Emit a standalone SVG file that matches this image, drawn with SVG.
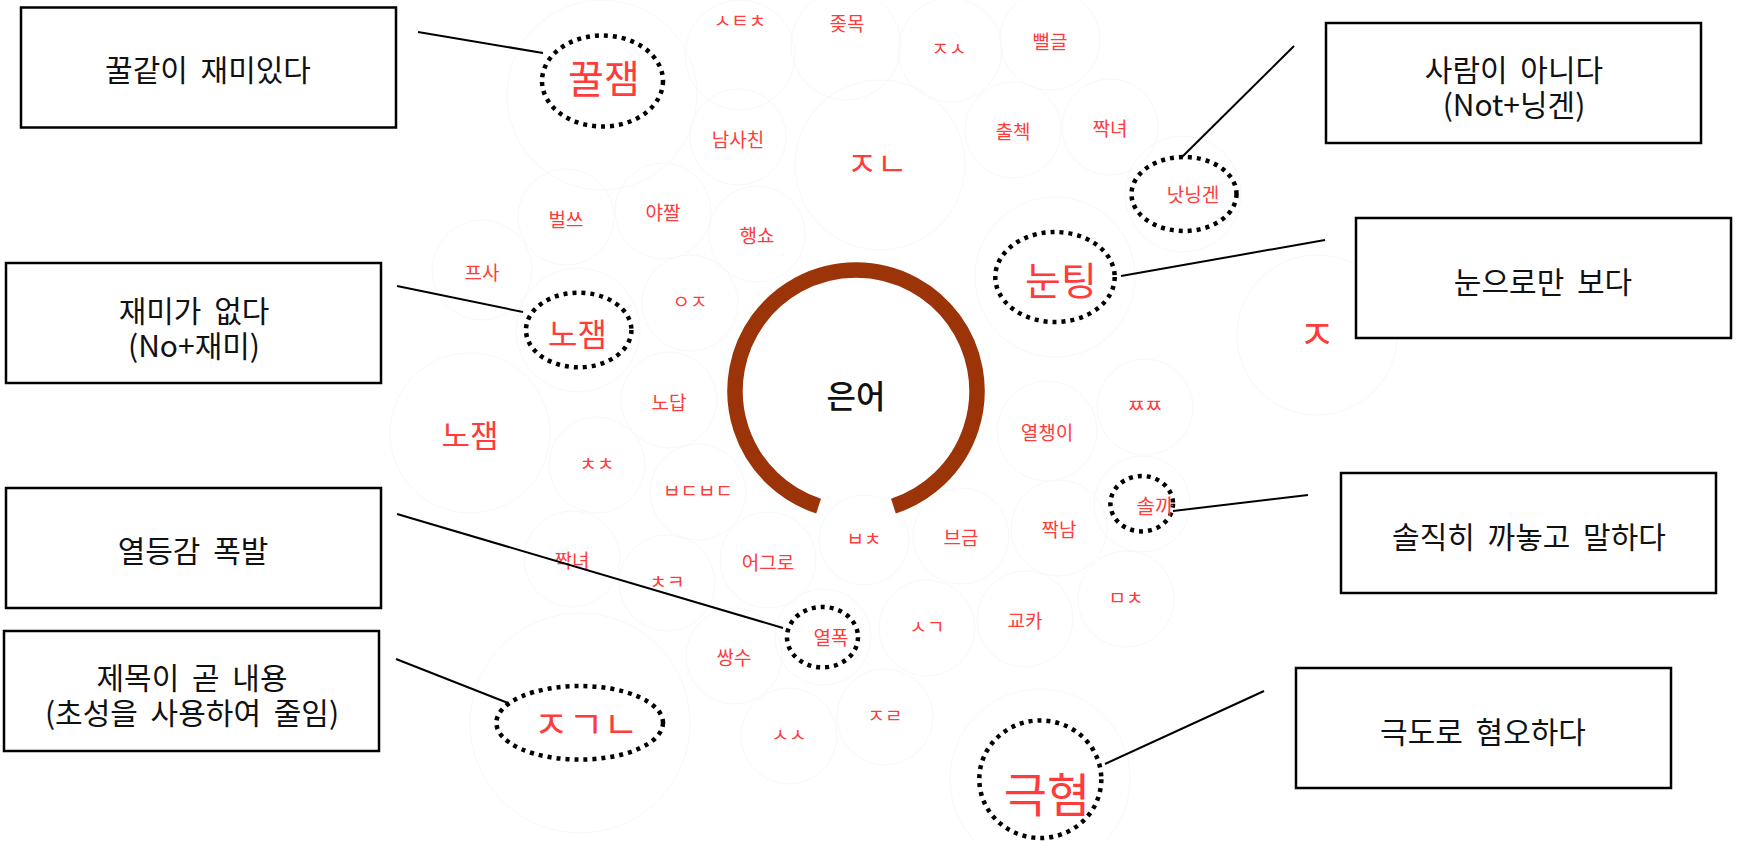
<svg xmlns="http://www.w3.org/2000/svg" width="1737" height="841" viewBox="0 0 1737 841">
<style>
.bub{fill:none;stroke:#f8f8f8;stroke-width:1}
.w{font-family:"Noto Sans CJK KR","Noto Sans",sans-serif;fill:#ff3b3b;text-anchor:middle;dominant-baseline:central}
.s{font-size:19px}
.box{fill:#fff;stroke:#000;stroke-width:2.5}
.bt{font-family:"Noto Sans CJK KR","Noto Sans",sans-serif;font-size:30px;word-spacing:6px;fill:#111;text-anchor:middle;dominant-baseline:central}
.dot{fill:none;stroke:#000;stroke-width:4.5;stroke-dasharray:4 5}
.ln{stroke:#000;stroke-width:2;fill:none}
</style>
<rect width="1737" height="841" fill="#fff"/>
<g id="bubbles">
<circle class="bub" cx="602" cy="95" r="95"/>
<circle class="bub" cx="740" cy="55" r="55"/>
<circle class="bub" cx="846" cy="45" r="55"/>
<circle class="bub" cx="950" cy="50" r="52"/>
<circle class="bub" cx="1050" cy="40" r="50"/>
<circle class="bub" cx="738" cy="137" r="48"/>
<circle class="bub" cx="880" cy="165" r="85"/>
<circle class="bub" cx="1013" cy="130" r="48"/>
<circle class="bub" cx="1110" cy="127" r="48"/>
<circle class="bub" cx="566" cy="217" r="48"/>
<circle class="bub" cx="663" cy="211" r="48"/>
<circle class="bub" cx="757" cy="234" r="48"/>
<circle class="bub" cx="482" cy="270" r="50"/>
<circle class="bub" cx="578" cy="330" r="62"/>
<circle class="bub" cx="690" cy="303" r="48"/>
<circle class="bub" cx="669" cy="400" r="48"/>
<circle class="bub" cx="470" cy="433" r="80"/>
<circle class="bub" cx="597" cy="465" r="48"/>
<circle class="bub" cx="698" cy="492" r="48"/>
<circle class="bub" cx="1183" cy="194" r="58"/>
<circle class="bub" cx="1055" cy="277" r="80"/>
<circle class="bub" cx="1317" cy="335" r="80"/>
<circle class="bub" cx="1047" cy="431" r="50"/>
<circle class="bub" cx="1145" cy="407" r="48"/>
<circle class="bub" cx="1142" cy="504" r="48"/>
<circle class="bub" cx="961" cy="536" r="48"/>
<circle class="bub" cx="1059" cy="528" r="48"/>
<circle class="bub" cx="864" cy="540" r="45"/>
<circle class="bub" cx="572" cy="559" r="48"/>
<circle class="bub" cx="667" cy="583" r="48"/>
<circle class="bub" cx="768" cy="560" r="48"/>
<circle class="bub" cx="823" cy="637" r="48"/>
<circle class="bub" cx="734" cy="656" r="48"/>
<circle class="bub" cx="927" cy="628" r="48"/>
<circle class="bub" cx="1025" cy="619" r="48"/>
<circle class="bub" cx="1126" cy="599" r="48"/>
<circle class="bub" cx="580" cy="723" r="110"/>
<circle class="bub" cx="789" cy="736" r="48"/>
<circle class="bub" cx="885" cy="717" r="48"/>
<circle class="bub" cx="1040" cy="779" r="90"/>
</g>
<g id="center">
<path d="M 893.4 506.1 A 121 121 0 1 0 818.6 506.1" fill="none" stroke="#9c3409" stroke-width="15.5"/>
<text x="856" y="394" font-family="'Noto Sans CJK KR','Noto Sans',sans-serif" font-size="32" font-weight="500" fill="#111" text-anchor="middle" dominant-baseline="central">은어</text>
</g>
<g id="words">
<text class="w s" x="740" y="19">ㅅㅌㅊ</text>
<text class="w s" x="847" y="22">좆목</text>
<text class="w s" x="949" y="47">ㅈㅅ</text>
<text class="w s" x="1050" y="40">뻘글</text>
<text class="w s" x="738" y="138">남사친</text>
<text class="w" x="877" y="162" font-size="33">ㅈㄴ</text>
<text class="w s" x="1013" y="130">출첵</text>
<text class="w s" x="1110" y="127">짝녀</text>
<text class="w s" x="566" y="218">벌쓰</text>
<text class="w s" x="663" y="211">야짤</text>
<text class="w s" x="757" y="234">행쇼</text>
<text class="w s" x="482" y="271">프사</text>
<text class="w s" x="690" y="300">ㅇㅈ</text>
<text class="w s" x="669" y="401">노답</text>
<text class="w" x="470" y="433" font-size="31">노잼</text>
<text class="w s" x="597" y="462">ㅊㅊ</text>
<text class="w s" x="698" y="489">ㅂㄷㅂㄷ</text>
<text class="w" x="1317" y="332" font-size="40">ㅈ</text>
<text class="w s" x="1145" y="404">ㅉㅉ</text>
<text class="w s" x="1047" y="431">열챙이</text>
<text class="w s" x="961" y="536">브금</text>
<text class="w s" x="1059" y="528">짝남</text>
<text class="w s" x="864" y="537">ㅂㅊ</text>
<text class="w s" x="572" y="559">짝녀</text>
<text class="w s" x="667" y="580">ㅊㅋ</text>
<text class="w s" x="768" y="561">어그로</text>
<text class="w s" x="734" y="656">쌍수</text>
<text class="w s" x="927" y="625">ㅅㄱ</text>
<text class="w s" x="1025" y="619">교카</text>
<text class="w s" x="1126" y="596">ㅁㅊ</text>
<text class="w s" x="789" y="733">ㅅㅅ</text>
<text class="w s" x="885" y="714">ㅈㄹ</text>
</g>
<g id="kkuljaem">
<ellipse class="dot" cx="602.5" cy="81" rx="60.5" ry="45.5"/>
<text class="w" x="604" y="76" font-size="39">꿀잼</text>
</g>
<g id="nojaem">
<ellipse class="dot" cx="578.7" cy="330" rx="52.7" ry="37.3"/>
<text class="w" x="577.5" y="332" font-size="32">노잼</text>
</g>
<g id="natningen">
<ellipse class="dot" cx="1184" cy="194" rx="52.5" ry="37"/>
<text class="w" x="1193" y="193.5" font-size="19">낫닝겐</text>
</g>
<g id="nunting">
<ellipse class="dot" cx="1055" cy="277" rx="59.7" ry="45"/>
<text class="w" x="1061" y="277.5" font-size="39">눈팅</text>
</g>
<g id="solkka">
<ellipse class="dot" cx="1141.7" cy="503.7" rx="31.3" ry="27.7"/>
<text class="w" x="1155" y="505" font-size="20">솔까</text>
</g>
<g id="yeolpok">
<ellipse class="dot" cx="822.5" cy="637.2" rx="35.5" ry="30.2"/>
<text class="w" x="831" y="636" font-size="19">열폭</text>
</g>
<g id="jgn">
<ellipse class="dot" cx="579.7" cy="722.8" rx="83.3" ry="36.8"/>
<text class="w" x="586" y="721" font-size="38">ㅈㄱㄴ</text>
</g>
<g id="geukhyeom">
<ellipse class="dot" cx="1040.3" cy="779.2" rx="61" ry="58.8"/>
<text class="w" x="1047" y="791" font-size="47">극혐</text>
</g>
<g id="connectors">
<line class="ln" x1="418" y1="32" x2="543" y2="53"/>
<line class="ln" x1="397" y1="286" x2="523" y2="312"/>
<line class="ln" x1="397" y1="514" x2="783" y2="628"/>
<line class="ln" x1="396" y1="659" x2="508" y2="703"/>
<line class="ln" x1="1294" y1="46" x2="1182" y2="157"/>
<line class="ln" x1="1325" y1="240" x2="1121" y2="276"/>
<line class="ln" x1="1308" y1="495" x2="1173" y2="511"/>
<line class="ln" x1="1264" y1="691" x2="1105" y2="764"/>
</g>
<g id="box-kkuljaem">
<rect class="box" x="21" y="7.5" width="375" height="120"/>
<text class="bt" x="208" y="68">꿀같이 재미있다</text>
</g>
<g id="box-nojaem">
<rect class="box" x="6" y="263" width="375" height="120"/>
<text class="bt" y="309"><tspan x="194">재미가 없다</tspan><tspan x="194" dy="35">(No+재미)</tspan></text>
</g>
<g id="box-yeolpok">
<rect class="box" x="6" y="488" width="375" height="120"/>
<text class="bt" x="193" y="549">열등감 폭발</text>
</g>
<g id="box-jgn">
<rect class="box" x="4" y="631" width="375" height="120"/>
<text class="bt" y="676"><tspan x="192">제목이 곧 내용</tspan><tspan x="192" dy="35">(초성을 사용하여 줄임)</tspan></text>
</g>
<g id="box-natningen">
<rect class="box" x="1326" y="23" width="375" height="120"/>
<text class="bt" y="68"><tspan x="1514">사람이 아니다</tspan><tspan x="1514" dy="35">(Not+닝겐)</tspan></text>
</g>
<g id="box-nunting">
<rect class="box" x="1356" y="218" width="375" height="120"/>
<text class="bt" x="1543" y="280">눈으로만 보다</text>
</g>
<g id="box-solkka">
<rect class="box" x="1341" y="473" width="375" height="120"/>
<text class="bt" x="1529" y="535">솔직히 까놓고 말하다</text>
</g>
<g id="box-geukhyeom">
<rect class="box" x="1296" y="668" width="375" height="120"/>
<text class="bt" x="1483" y="730">극도로 혐오하다</text>
</g>
</svg>
